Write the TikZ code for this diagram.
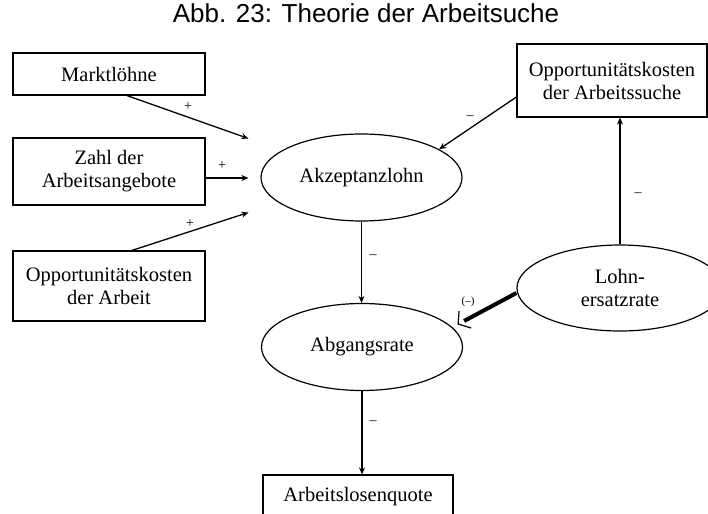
\documentclass[tikz,border=0pt]{standalone}
\usepackage{fontspec}
\setmainfont{Liberation Serif}
\newfontfamily\titlefont{Liberation Sans}
\usetikzlibrary{arrows.meta,calc,shapes.geometric}
\begin{document}
\begin{tikzpicture}[x=1pt,y=-1pt,
  box/.style={draw,line width=1.2pt,minimum width=192pt,minimum height=42pt,inner sep=2pt,align=center,font=\fontsize{20.5}{23}\selectfont},
  oval/.style={ellipse,draw,line width=1.2pt,minimum width=201pt,minimum height=87pt,inner sep=0pt,align=center,font=\fontsize{20.5}{23}\selectfont},
  arr/.style={line width=1.3pt,-{Stealth[length=7pt,width=6pt]}},
  sgn/.style={font=\fontsize{14}{14}\selectfont,inner sep=0pt}]
\useasboundingbox (0,0) rectangle (708,513);
\clip (0,0) rectangle (708,513);
\node[font=\titlefont\fontsize{26}{26}\selectfont,anchor=base] (title) at (366,23) {Abb. 23: Theorie der Arbeitsuche};
\node[box] (markt) at (109,74) {Marktlöhne};
\node[box,minimum height=67pt] (zahl) at (109,171.5) {Zahl der\\Arbeitsangebote};
\node[box,minimum height=70pt] (oppa) at (109,286) {Opportunitätskosten\\der Arbeit};
\node[box,minimum width=190pt,minimum height=73pt] (opps) at (612,80.5) {Opportunitätskosten\\der Arbeitssuche};
\node[oval] (akz) at (361.5,177.5) {Akzeptanzlohn};
\node[oval] (abg) at (362,347) {Abgangsrate};
\node[oval,minimum width=206pt,minimum height=86pt] (lohn) at (620,288) {Lohn-\\ersatzrate};
\node[box,minimum width=190pt,minimum height=44pt] (alq) at (358,497) {Arbeitslosenquote};
\draw[arr] ($(markt.south)+(18,0)$) -- ($(akz.west)+(-12,-39)$);
\draw[arr] ($(zahl.east)+(0,6.5)$) -- ($(akz.west)+(-12,0.5)$);
\draw[arr] ($(oppa.north)+(23,0)$) -- ($(akz.west)+(-12,35)$);
\draw[arr] ($(opps.west)+(0,16.5)$) -- (akz.20);
\draw[arr] (lohn.north) -- (lohn.north |- opps.south);
\draw[arr] (akz.south) -- (akz.south |- abg.north);
\draw[arr] (abg.south) -- (abg.south |- alq.north);
\coordinate (tip) at ($(abg.east)+(-5,-23)$);
\draw[line width=4pt] ($(lohn.west)+(0,5)$) -- ($(tip)+(6,-3)$);
\draw[line width=1.2pt] ($(tip)+(1,-13)$) -- (tip) -- ($(tip)+(13,4)$);
\node[sgn] at (188,107) {+};
\node[sgn] at (222,166) {+};
\node[sgn] at (190,224) {+};
\node[sgn] at (470,118) {–};
\node[sgn] at (373,257) {–};
\node[sgn] at (638,195) {–};
\node[sgn] at (373,423) {–};
\node[sgn,font=\fontsize{11}{11}\selectfont] at (468,302) {(–)};
\end{tikzpicture}
\end{document}
